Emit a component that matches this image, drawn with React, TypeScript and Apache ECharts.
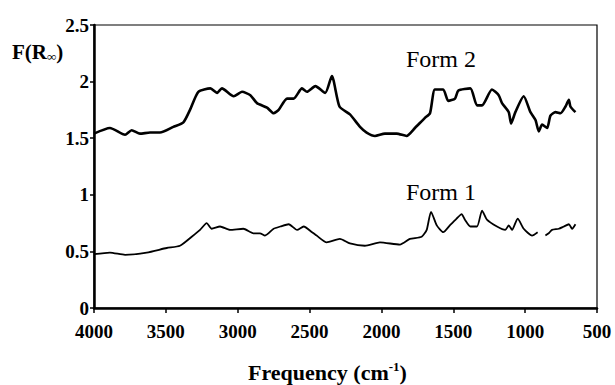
import React, { useEffect, useRef } from "react";
import * as echarts from "echarts";

const form2Freq = [4000, 3889, 3784, 3738, 3680, 3610, 3541, 3448, 3378, 3332, 3274, 3190, 3144, 3110, 3028, 2970, 2912, 2866, 2796, 2750, 2715, 2657, 2611, 2553, 2518, 2460, 2391, 2345, 2292, 2219, 2149, 2103, 2045, 1976, 1894, 1825, 1767, 1697, 1662, 1628, 1570, 1535, 1488, 1465, 1381, 1335, 1300, 1231, 1184, 1161, 1114, 1098, 1068, 1010, 963, 928, 905, 882, 847, 824, 789, 754, 719, 696, 685, 650];
const form2Vals = [1.54, 1.59, 1.53, 1.57, 1.54, 1.55, 1.55, 1.60, 1.64, 1.75, 1.91, 1.94, 1.90, 1.94, 1.87, 1.91, 1.88, 1.81, 1.77, 1.72, 1.75, 1.85, 1.85, 1.94, 1.91, 1.96, 1.90, 2.05, 1.78, 1.71, 1.60, 1.55, 1.52, 1.54, 1.54, 1.52, 1.59, 1.68, 1.72, 1.93, 1.93, 1.83, 1.85, 1.92, 1.94, 1.79, 1.79, 1.93, 1.88, 1.81, 1.73, 1.63, 1.73, 1.87, 1.73, 1.66, 1.56, 1.62, 1.59, 1.70, 1.73, 1.72, 1.78, 1.84, 1.78, 1.73];

const form1Freq = [4000, 3889, 3784, 3633, 3494, 3402, 3320, 3262, 3216, 3181, 3123, 3054, 2961, 2891, 2845, 2810, 2750, 2703, 2645, 2587, 2541, 2483, 2451, 2381, 2289, 2219, 2115, 2010, 1871, 1802, 1720, 1685, 1655, 1615, 1570, 1524, 1477, 1442, 1419, 1381, 1335, 1300, 1266, 1196, 1138, 1114, 1091, 1052, 1010, 952, 913, 886, 859, 836, 813, 766, 731, 696, 673, 650];
const form1Vals: (number | string)[] = [0.475, 0.49, 0.47, 0.49, 0.53, 0.55, 0.63, 0.69, 0.75, 0.70, 0.72, 0.69, 0.70, 0.66, 0.66, 0.64, 0.70, 0.72, 0.74, 0.69, 0.72, 0.67, 0.64, 0.58, 0.61, 0.57, 0.55, 0.58, 0.56, 0.61, 0.63, 0.69, 0.85, 0.73, 0.67, 0.73, 0.79, 0.83, 0.78, 0.72, 0.72, 0.86, 0.78, 0.72, 0.69, 0.73, 0.69, 0.79, 0.70, 0.64, 0.67, "-", 0.64, 0.66, 0.69, 0.70, 0.72, 0.74, 0.70, 0.74];

const xTicks = [4000, 3500, 3000, 2500, 2000, 1500, 1000, 500];
const yTicks = [0, 0.5, 1, 1.5, 2, 2.5];
const labels = ["Form 2", "Form 1"];

const SERIF = "'Liberation Serif', 'DejaVu Serif', serif";

export default function App() {
  const ref = useRef<HTMLDivElement>(null);
  useEffect(() => {
    if (!ref.current) return;
    const chart = echarts.init(ref.current, undefined, { renderer: "svg" });
    chart.setOption({
      animation: false,
      backgroundColor: "#fff",
      grid: { left: 94, right: 18, top: 25, bottom: 77, show: true, borderColor: "#000", borderWidth: 1.2 },
      xAxis: {
        type: "value",
        inverse: true,
        min: xTicks[xTicks.length - 1],
        max: xTicks[0],
        interval: 500,
        axisLine: { lineStyle: { color: "#000", width: 2.5 } },
        axisTick: { show: true, length: 5, lineStyle: { color: "#000", width: 1.5 } },
        axisLabel: { color: "#000", fontFamily: SERIF, fontWeight: "bold", fontSize: 19, margin: 14, formatter: (v: number) => String(v) },
        splitLine: { show: false },
      },
      yAxis: {
        type: "value",
        min: yTicks[0],
        max: yTicks[yTicks.length - 1],
        interval: 0.5,
        axisLine: { show: true, lineStyle: { color: "#000", width: 2.5 } },
        axisTick: { show: true, length: 4, lineStyle: { color: "#000", width: 1.5 } },
        axisLabel: { color: "#000", fontFamily: SERIF, fontWeight: "bold", fontSize: 19, margin: 5 },
        splitLine: { show: false },
      },
      series: [
        {
          name: labels[0],
          type: "line",
          data: form2Freq.map((f, i) => [f, form2Vals[i]]),
          showSymbol: false,
          smooth: 0.2,
          lineStyle: { color: "#000", width: 2.6 },
        },
        {
          name: labels[1],
          type: "line",
          data: form1Freq.map((f, i) => [f, form1Vals[i]]),
          showSymbol: false,
          connectNulls: false,
          smooth: 0.2,
          lineStyle: { color: "#000", width: 1.8 },
        },
      ],
      graphic: [
        {
          type: "text",
          left: 12,
          top: 41,
          style: {
            text: "{b|F(R}{s|∞}{b|)}",
            rich: {
              b: { fontFamily: SERIF, fontWeight: "bold", fontSize: 21, fill: "#000" },
              s: { fontFamily: SERIF, fontWeight: "bold", fontSize: 13, fill: "#000", padding: [9, 0, 0, 0] },
            },
          },
        },
        {
          type: "text",
          left: 248,
          top: 360,
          style: {
            text: "{b|Frequency (cm}{s|-1}{b|)}",
            rich: {
              b: { fontFamily: SERIF, fontWeight: "bold", fontSize: 22, fill: "#000" },
              s: { fontFamily: SERIF, fontWeight: "bold", fontSize: 13, fill: "#000", padding: [0, 0, 12, 0] },
            },
          },
        },
        {
          type: "text",
          left: 406,
          top: 47,
          style: { text: labels[0], fontFamily: SERIF, fontSize: 24, fill: "#000" },
        },
        {
          type: "text",
          left: 406,
          top: 180,
          style: { text: labels[1], fontFamily: SERIF, fontSize: 24, fill: "#000" },
        },
      ],
    });
    return () => chart.dispose();
  }, []);
  return <div ref={ref} style={{ width: 615, height: 385, position: "absolute", left: 0, top: 0 }} />;
}
